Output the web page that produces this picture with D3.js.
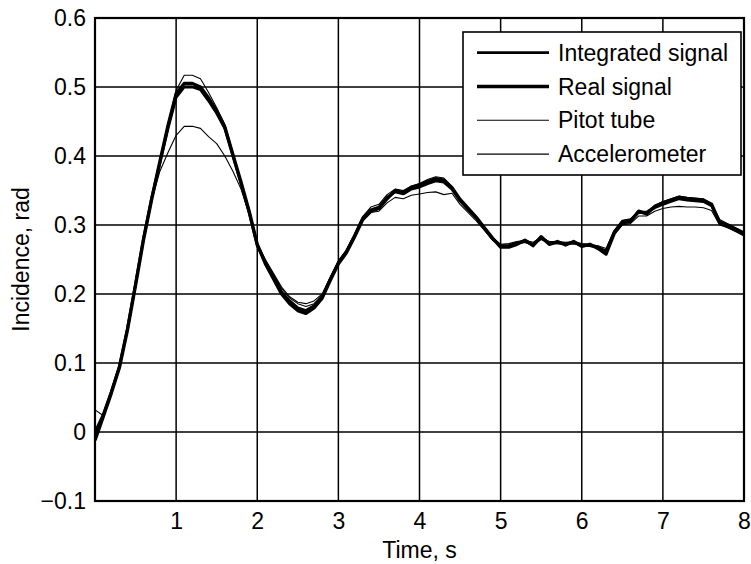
<!DOCTYPE html>
<html><head><meta charset="utf-8">
<script src="https://cdn.jsdelivr.net/npm/d3@7"></script>
<style>body{margin:0;background:#fff}svg{display:block}text{font-family:"Liberation Sans",Arial,sans-serif;fill:#000}</style>
</head><body>
<svg id="c" width="751" height="564"></svg>
<script>
const time = d3.range(0, 81).map(i => +(i * 0.1).toFixed(1));
const integrated = [0.000,0.025,0.058,0.095,0.150,0.215,0.282,0.340,0.390,0.440,0.485,0.500,0.500,0.496,0.480,0.462,0.440,0.400,0.360,0.318,0.270,0.246,0.225,0.203,0.190,0.180,0.176,0.183,0.196,0.222,0.246,0.262,0.285,0.310,0.322,0.326,0.340,0.348,0.345,0.352,0.355,0.360,0.364,0.362,0.352,0.335,0.322,0.310,0.295,0.280,0.270,0.270,0.274,0.276,0.272,0.281,0.274,0.274,0.273,0.274,0.271,0.270,0.268,0.262,0.290,0.305,0.307,0.318,0.318,0.325,0.330,0.334,0.338,0.336,0.335,0.334,0.328,0.305,0.300,0.294,0.288];
const real = [-0.012,0.022,0.056,0.093,0.148,0.213,0.280,0.338,0.392,0.444,0.490,0.505,0.505,0.500,0.484,0.465,0.442,0.402,0.362,0.320,0.272,0.244,0.222,0.200,0.186,0.176,0.172,0.180,0.194,0.220,0.244,0.260,0.283,0.308,0.320,0.324,0.338,0.350,0.347,0.355,0.358,0.363,0.367,0.365,0.354,0.337,0.324,0.311,0.296,0.281,0.268,0.268,0.272,0.278,0.270,0.283,0.272,0.276,0.271,0.276,0.269,0.272,0.266,0.258,0.288,0.303,0.305,0.320,0.316,0.327,0.332,0.336,0.340,0.338,0.337,0.336,0.330,0.303,0.298,0.292,0.286];
const pitot = [0.032,0.024,0.060,0.097,0.152,0.217,0.284,0.342,0.394,0.447,0.495,0.517,0.517,0.512,0.492,0.470,0.446,0.405,0.364,0.320,0.274,0.250,0.230,0.210,0.196,0.188,0.186,0.190,0.200,0.224,0.248,0.264,0.287,0.312,0.326,0.330,0.344,0.352,0.350,0.356,0.360,0.366,0.370,0.368,0.356,0.338,0.324,0.312,0.297,0.282,0.272,0.273,0.276,0.278,0.275,0.282,0.276,0.276,0.275,0.276,0.273,0.272,0.270,0.266,0.292,0.307,0.309,0.320,0.320,0.328,0.334,0.338,0.342,0.340,0.339,0.338,0.331,0.308,0.302,0.296,0.290];
const accelerometer = [0.000,0.024,0.057,0.094,0.149,0.214,0.280,0.336,0.378,0.405,0.430,0.443,0.443,0.440,0.428,0.418,0.400,0.378,0.352,0.316,0.272,0.248,0.228,0.208,0.194,0.186,0.182,0.186,0.198,0.224,0.246,0.260,0.282,0.306,0.318,0.320,0.332,0.340,0.338,0.343,0.345,0.347,0.348,0.344,0.346,0.330,0.318,0.306,0.292,0.278,0.270,0.270,0.273,0.275,0.272,0.279,0.273,0.273,0.272,0.273,0.270,0.269,0.267,0.263,0.286,0.300,0.302,0.313,0.313,0.320,0.324,0.326,0.327,0.326,0.326,0.325,0.321,0.300,0.296,0.291,0.286];
const xTicks = [1,2,3,4,5,6,7,8];
const yTicks = [-0.1,0,0.1,0.2,0.3,0.4,0.5,0.6];
const seriesNames = ["Integrated signal","Real signal","Pitot tube","Accelerometer"];
const seriesData = [integrated, real, pitot, accelerometer];
const seriesWidths = [2.8, 3.4, 1.1, 1.1];

const svg = d3.select("#c");
const L = 95, R = 744, T = 18, B = 501;
const x = d3.scaleLinear().domain([0, 8]).range([L, R]);
const y = d3.scaleLinear().domain([-0.1, 0.6]).range([B, T]);

// grid
const g = svg.append("g");
g.selectAll(".gx").data(xTicks).join("line")
  .attr("x1", d => x(d)).attr("x2", d => x(d)).attr("y1", T).attr("y2", B)
  .attr("stroke", "#000").attr("stroke-width", 1.5);
g.selectAll(".gy").data(yTicks).join("line")
  .attr("x1", L).attr("x2", R).attr("y1", d => y(d)).attr("y2", d => y(d))
  .attr("stroke", "#000").attr("stroke-width", 1.5);

// lines
svg.append("clipPath").attr("id", "clip").append("rect")
  .attr("x", L).attr("y", T).attr("width", R - L).attr("height", B - T);
const line = d3.line().x((d, i) => x(time[i])).y(d => y(d));
const order = [3, 2, 1, 0];
svg.append("g").attr("clip-path", "url(#clip)").selectAll("path").data(order).join("path")
  .attr("d", i => line(seriesData[i]))
  .attr("fill", "none").attr("stroke", "#000")
  .attr("stroke-width", i => seriesWidths[i]).attr("stroke-linejoin", "round");

// axes
const xAxis = d3.axisBottom(x).tickValues(xTicks).tickSize(0).tickPadding(12).tickFormat(d3.format("d"));
const yAxis = d3.axisLeft(y).tickValues(yTicks).tickSize(0).tickPadding(9).tickFormat(d => d === 0 ? "0" : d3.format(".1f")(d));
const ax = svg.append("g").attr("transform", `translate(0,${B})`).call(xAxis);
const ay = svg.append("g").attr("transform", `translate(${L},0)`).call(yAxis);
[ax, ay].forEach(a => {
  a.select(".domain").remove();
  a.selectAll("text").style("font-size", "23px").style("font-family", '"Liberation Sans",Arial,sans-serif').attr("fill", "#000");
});
svg.append("rect").attr("x", L).attr("y", T).attr("width", R - L).attr("height", B - T)
  .attr("fill", "none").attr("stroke", "#000").attr("stroke-width", 2.2);

// labels
svg.append("text").attr("x", (L + R) / 2).attr("y", 558).attr("text-anchor", "middle")
  .style("font-size", "23px").text("Time, s");
svg.append("text").attr("transform", `translate(29,${(T + B) / 2}) rotate(-90)`).attr("text-anchor", "middle")
  .style("font-size", "23px").text("Incidence, rad");

// legend
const lg = svg.append("g");
lg.append("rect").attr("x", 463).attr("y", 32).attr("width", 278).attr("height", 143)
  .attr("fill", "#fff").attr("stroke", "#000").attr("stroke-width", 1.6);
const rows = lg.selectAll("g.row").data(seriesNames).join("g")
  .attr("transform", (d, i) => `translate(0,${52.7 + i * 33.8})`);
rows.append("line").attr("x1", 477).attr("x2", 549).attr("y1", 0).attr("y2", 0)
  .attr("stroke", "#000").attr("stroke-width", (d, i) => seriesWidths[i]);
rows.append("text").attr("x", 558).attr("y", 8).style("font-size", "23px").text(d => d);
</script>
</body></html>
